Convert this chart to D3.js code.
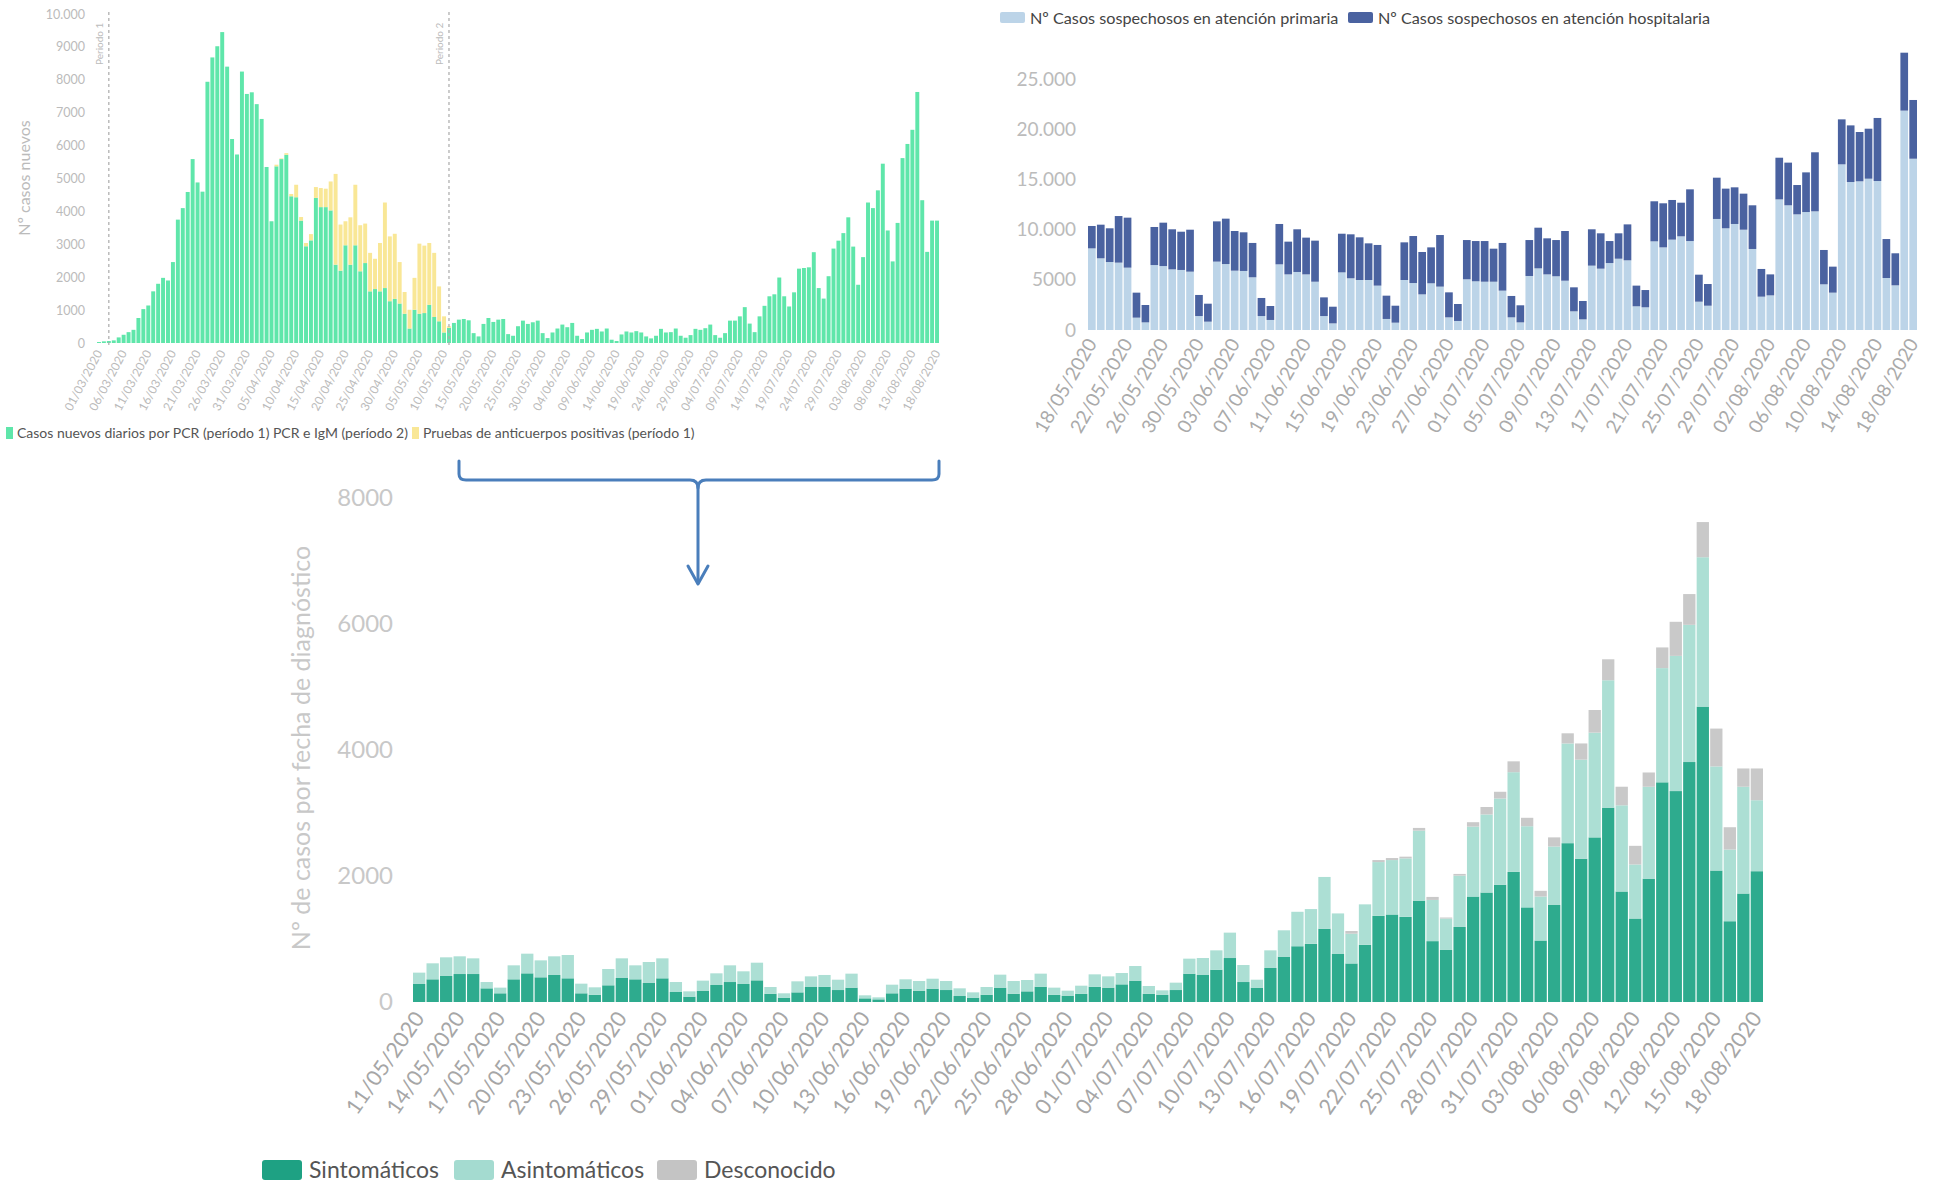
<!DOCTYPE html>
<html>
<head>
<meta charset="utf-8">
<script src="https://cdn.jsdelivr.net/npm/d3@7"></script>
<style>
  body { margin: 0; background: #fff; }
  text { font-family: Lato, sans-serif; }
</style>
</head>
<body>
<svg id="chart" width="1939" height="1184"></svg>
<script>
// ---- data: casos nuevos diarios (01/03 - 18/08) ----
var casosPCR = [30,50,60,80,170,250,330,400,760,1030,
  1140,1570,1800,1980,1900,2460,3750,4100,4590,5590,
  4880,4600,7940,8680,9020,9450,8400,6200,5730,8250,
  7570,7620,7260,6810,5350,3700,5370,5590,5720,4460,
  4430,3720,2940,3120,4410,4130,4130,4030,2380,2200,
  2970,2380,2970,2180,2430,1570,1640,1570,1670,1270,
  1340,1200,890,440,1010,890,910,1160,790,660,
  320,460,610,710,730,690,300,200,580,760,
  640,710,730,270,220,510,680,580,630,680,
  300,150,320,440,560,480,610,220,120,320,
  400,430,350,440,100,60,260,350,320,360,
  320,200,140,220,430,320,330,440,220,160,
  240,430,400,450,560,240,160,300,680,680,
  810,1090,590,330,810,1130,1420,1480,1990,1420,
  1110,1540,2260,2280,2300,2760,1670,1350,2030,2870,
  3110,3340,3820,2930,1770,2610,4270,4100,4640,5450,
  3420,2480,3650,5620,6050,6480,7630,4340,2770,3720,
  3720];
// pruebas de anticuerpos positivas, desde 06/04
var anticuerposInicio = "06/04/2020";
var anticuerpos = [50,20,50,70,380,110,100,190,330,580,
  560,880,2760,1400,730,1440,1840,1400,1200,1170,
  920,1470,2600,1970,1980,1260,660,570,970,2130,
  2050,1880,1950,1060,490,50];
var periodos = [{fecha: "03/03/2020", nombre: "Periodo 1"}, {fecha: "11/05/2020", nombre: "Periodo 2"}];
var etiquetasA = ["01/03/2020","06/03/2020","11/03/2020","16/03/2020","21/03/2020","26/03/2020","31/03/2020",
  "05/04/2020","10/04/2020","15/04/2020","20/04/2020","25/04/2020","30/04/2020","05/05/2020","10/05/2020",
  "15/05/2020","20/05/2020","25/05/2020","30/05/2020","04/06/2020","09/06/2020","14/06/2020","19/06/2020",
  "24/06/2020","29/06/2020","04/07/2020","09/07/2020","14/07/2020","19/07/2020","24/07/2020","29/07/2020",
  "03/08/2020","08/08/2020","13/08/2020","18/08/2020"];

// ---- data: casos sospechosos (18/05 - 18/08) ----
var primaria = [8130,7140,6770,6710,6210,1230,760,6470,6370,6040,
  5980,5810,1390,830,6810,6570,5910,5880,5250,1390,
  1000,6540,5540,5780,5540,4810,1390,660,5740,5150,
  4980,4980,4420,1100,730,4980,4680,3550,4650,4320,
  1260,900,5050,4850,4810,4810,3920,1260,760,5380,
  6140,5540,5350,4910,1860,1060,6410,6110,6670,7100,
  6940,2360,2260,8830,8230,9000,9330,8860,2820,2420,
  11060,10130,10560,9990,8070,3320,3450,13010,12420,11520,
  11750,11820,4550,3720,16500,14740,14810,15070,14840,5180,
  4450,21850,17060];
var hospitalaria = [2230,3350,3360,4640,4980,2490,1730,3790,4320,3990,
  3810,4180,2100,1790,4010,4520,3950,3850,3420,1800,
  1390,4020,3260,4250,3660,4090,1860,1660,3850,4380,
  4250,3650,4050,2320,1690,3750,4680,4220,3580,5140,
  2490,1690,3910,4010,4050,3290,4750,2130,1700,3580,
  4050,3590,3610,4950,2390,1830,3620,3520,2190,2530,
  3580,2060,1720,3990,4390,3950,3350,5150,2690,2160,
  4110,3950,3650,3590,4350,2760,2090,4150,4250,2920,
  3950,5880,3420,2590,4480,5640,4910,4980,6280,3880,
  3190,5770,5850];
var etiquetasB = ["18/05/2020","22/05/2020","26/05/2020","30/05/2020","03/06/2020","07/06/2020","11/06/2020",
  "15/06/2020","19/06/2020","23/06/2020","27/06/2020","01/07/2020","05/07/2020","09/07/2020","13/07/2020",
  "17/07/2020","21/07/2020","25/07/2020","29/07/2020","02/08/2020","06/08/2020","10/08/2020","14/08/2020",
  "18/08/2020"];

// ---- data: casos por fecha de diagnostico (11/05 - 18/08) ----
var sintomaticos = [286,360,413,444,444,217,138,360,455,392,
  429,376,138,116,265,381,360,302,376,159,
  85,175,270,317,286,344,132,69,153,238,
  243,190,228,58,42,138,212,180,212,190,
  95,69,116,228,132,169,243,116,101,132,
  243,228,280,339,132,116,190,450,429,513,
  698,317,228,540,720,885,923,1164,762,612,
  907,1368,1389,1352,1609,966,826,1191,1674,1738,
  1862,2065,1502,976,1540,2521,2275,2613,3085,1754,
  1325,1958,3487,3348,3809,4689,2087,1282,1722,2076];
var asintomaticos = [180,254,296,281,249,100,90,222,312,269,
  296,370,153,117,259,312,222,333,317,158,
  84,164,185,265,201,280,106,69,175,169,
  186,164,222,48,32,137,148,153,158,143,
  122,84,122,206,201,180,207,112,79,127,
  196,179,180,232,122,69,117,238,269,307,
  403,270,126,280,418,547,552,821,644,472,
  643,853,864,928,1111,654,499,815,1110,1239,
  1368,1583,1288,698,928,1583,1572,1663,2022,1368,
  858,1459,1813,2146,2178,2371,1652,1138,1695,1127];
var desconocido = [0,0,0,0,0,0,0,0,0,0,
  0,0,0,0,0,0,0,0,0,0,
  0,0,0,0,0,0,0,0,0,0,
  0,0,0,0,0,0,0,0,0,0,
  0,0,0,0,0,0,0,0,0,0,
  0,0,0,0,0,0,0,0,0,0,
  0,0,0,0,0,0,0,0,0,43,
  0,32,32,27,43,48,16,27,70,118,
  107,172,134,91,145,161,257,359,333,295,
  296,226,328,541,488,558,601,354,290,504];
var etiquetasC = ["11/05/2020","14/05/2020","17/05/2020","20/05/2020","23/05/2020","26/05/2020","29/05/2020",
  "01/06/2020","04/06/2020","07/06/2020","10/06/2020","13/06/2020","16/06/2020","19/06/2020","22/06/2020",
  "25/06/2020","28/06/2020","01/07/2020","04/07/2020","07/07/2020","10/07/2020","13/07/2020","16/07/2020",
  "19/07/2020","22/07/2020","25/07/2020","28/07/2020","31/07/2020","03/08/2020","06/08/2020","09/08/2020",
  "12/08/2020","15/08/2020","18/08/2020"];

var parse = d3.utcParse("%d/%m/%Y"), fmt = d3.utcFormat("%d/%m/%Y");
function dias(a, b) {
  return d3.utcDay.range(parse(a), d3.utcDay.offset(parse(b), 1)).map(fmt);
}
// 10.000 with a dot, but 9000 without (as in the original)
function miles(v) {
  return v >= 10000 ? d3.format(",")(v).replace(/,/g, ".") : String(v);
}

var svg = d3.select("#chart");

// ================= chart A (top left) =================
var fechasA = dias("01/03/2020", "18/08/2020");
var iniAnti = fechasA.indexOf(anticuerposInicio);
var tablaA = fechasA.map(function(f, i) {
  var j = i - iniAnti;
  return {fecha: f, pcr: casosPCR[i], anti: (j >= 0 && j < anticuerpos.length) ? anticuerpos[j] : 0};
});
var xA = d3.scaleBand().domain(fechasA).range([97, 939]).paddingInner(0.2).paddingOuter(0);
var yA = d3.scaleLinear().domain([0, 10000]).range([343, 14]);
var gA = svg.append("g");

var pilaA = d3.stack().keys(["pcr", "anti"])(tablaA);
var coloresA = {pcr: "#5fe6aa", anti: "#f9e796"};
gA.selectAll("g.serie").data(pilaA).join("g").attr("class", "serie")
  .attr("fill", function(s) { return coloresA[s.key]; })
  .selectAll("rect").data(function(s) { return s; }).join("rect")
  .attr("x", function(d) { return xA(d.data.fecha); })
  .attr("width", xA.bandwidth())
  .attr("y", function(d) { return yA(d[1]); })
  .attr("height", function(d) { return yA(d[0]) - yA(d[1]); });

gA.selectAll("line.periodo").data(periodos).join("line").attr("class", "periodo")
  .attr("x1", function(d) { return xA(d.fecha) + xA.bandwidth() / 2; })
  .attr("x2", function(d) { return xA(d.fecha) + xA.bandwidth() / 2; })
  .attr("y1", 12).attr("y2", 346)
  .attr("stroke", "#aaa").attr("stroke-width", 1.2).attr("stroke-dasharray", "3,3");
gA.selectAll("text.periodo").data(periodos).join("text").attr("class", "periodo")
  .attr("transform", function(d) { return "translate(" + (xA(d.fecha) + xA.bandwidth() / 2 - 6) + ",65) rotate(-90)"; })
  .attr("font-size", 10).attr("fill", "#bbb")
  .text(function(d) { return d.nombre; });

gA.append("g").attr("transform", "translate(88,0)")
  .call(d3.axisLeft(yA).tickValues(d3.range(0, 10001, 1000)).tickFormat(miles).tickSize(0).tickPadding(3))
  .call(function(g) { g.select(".domain").remove(); })
  .attr("font-family", "Lato").attr("font-size", 12.5)
  .selectAll("text").attr("fill", "#bbb");

gA.append("g").attr("transform", "translate(0,351)")
  .call(d3.axisBottom(xA).tickValues(etiquetasA).tickSize(0).tickPadding(0))
  .call(function(g) { g.select(".domain").remove(); })
  .attr("font-family", "Lato").attr("font-size", 12)
  .selectAll("text").attr("fill", "#bbb").attr("y", 0).attr("dy", "0.35em")
  .attr("transform", "rotate(-62)").style("text-anchor", "end");

gA.append("text").attr("transform", "translate(30,178) rotate(-90)")
  .attr("text-anchor", "middle").attr("font-size", 16).attr("fill", "#bbb").text("Nº casos nuevos");

var leyendaA = [
  {x: 6, color: coloresA.pcr, texto: "Casos nuevos diarios por PCR (período 1) PCR e IgM (período 2)"},
  {x: 412, color: coloresA.anti, texto: "Pruebas de anticuerpos positivas (período 1)"}
];
var lA = gA.selectAll("g.leyenda").data(leyendaA).join("g").attr("class", "leyenda")
  .attr("transform", function(d) { return "translate(" + d.x + ",427)"; });
lA.append("rect").attr("width", 7).attr("height", 12).attr("fill", function(d) { return d.color; });
lA.append("text").attr("x", 11).attr("y", 11).attr("font-size", 14).attr("fill", "#555")
  .text(function(d) { return d.texto; });

// ================= chart B (top right) =================
var fechasB = dias("18/05/2020", "18/08/2020");
var tablaB = fechasB.map(function(f, i) { return {fecha: f, primaria: primaria[i], hospitalaria: hospitalaria[i]}; });
var xB = d3.scaleBand().domain(fechasB).range([1088, 1917]).paddingInner(0.14).paddingOuter(0);
var yB = d3.scaleLinear().domain([0, 25000]).range([330, 79]);
var coloresB = {primaria: "#bcd4e8", hospitalaria: "#4a62a0"};
var gB = svg.append("g");

gB.selectAll("g.serie").data(d3.stack().keys(["primaria", "hospitalaria"])(tablaB)).join("g").attr("class", "serie")
  .attr("fill", function(s) { return coloresB[s.key]; })
  .selectAll("rect").data(function(s) { return s; }).join("rect")
  .attr("x", function(d) { return xB(d.data.fecha); })
  .attr("width", xB.bandwidth())
  .attr("y", function(d) { return yB(d[1]); })
  .attr("height", function(d) { return yB(d[0]) - yB(d[1]); });

gB.append("g").attr("transform", "translate(1079,0)")
  .call(d3.axisLeft(yB).tickValues(d3.range(0, 25001, 5000)).tickFormat(miles).tickSize(0).tickPadding(3))
  .call(function(g) { g.select(".domain").remove(); })
  .attr("font-family", "Lato").attr("font-size", 19)
  .selectAll("text").attr("fill", "#bbb");

gB.append("g").attr("transform", "translate(0,340)")
  .call(d3.axisBottom(xB).tickValues(etiquetasB).tickSize(0).tickPadding(0))
  .call(function(g) { g.select(".domain").remove(); })
  .attr("font-family", "Lato").attr("font-size", 19)
  .selectAll("text").attr("fill", "#aaa").attr("y", 0).attr("dy", "0.35em")
  .attr("transform", "rotate(-60)").style("text-anchor", "end");

var leyendaB = [
  {x: 1000, color: coloresB.primaria, texto: "Nº Casos sospechosos en atención primaria"},
  {x: 1348, color: coloresB.hospitalaria, texto: "Nº Casos sospechosos en atención hospitalaria"}
];
var lB = gB.selectAll("g.leyenda").data(leyendaB).join("g").attr("class", "leyenda")
  .attr("transform", function(d) { return "translate(" + d.x + ",12)"; });
lB.append("rect").attr("width", 25).attr("height", 11).attr("rx", 2).attr("fill", function(d) { return d.color; });
lB.append("text").attr("x", 30).attr("y", 11.5).attr("font-size", 16.2).attr("fill", "#444")
  .text(function(d) { return d.texto; });

// ================= bracket + arrow =================
var flecha = svg.append("g").attr("fill", "none").attr("stroke", "#4a7ebb").attr("stroke-width", 3)
  .attr("stroke-linecap", "round").attr("stroke-linejoin", "round");
flecha.append("path").attr("d", "M459,461 L459,474 Q459,480 466,480 L690,480 Q698,480 698,488 Q698,480 706,480 L932,480 Q939,480 939,474 L939,461");
flecha.append("path").attr("d", "M698,486 L698,583");
flecha.append("path").attr("d", "M688,566 L698,584 L708,566");

// ================= chart C (bottom) =================
var fechasC = dias("11/05/2020", "18/08/2020");
var tablaC = fechasC.map(function(f, i) {
  return {fecha: f, sint: sintomaticos[i], asint: asintomaticos[i], desc: desconocido[i]};
});
var xC = d3.scaleBand().domain(fechasC).range([413, 1763]).paddingInner(0.09).paddingOuter(0);
var yC = d3.scaleLinear().domain([0, 8000]).range([1002, 498]);
var coloresC = {sint: "#2eab8e", asint: "#acdfd4", desc: "#c9c9c9"};
var gC = svg.append("g");

gC.selectAll("g.serie").data(d3.stack().keys(["sint", "asint", "desc"])(tablaC)).join("g").attr("class", "serie")
  .attr("fill", function(s) { return coloresC[s.key]; })
  .selectAll("rect").data(function(s) { return s; }).join("rect")
  .attr("x", function(d) { return xC(d.data.fecha); })
  .attr("width", xC.bandwidth())
  .attr("y", function(d) { return yC(d[1]); })
  .attr("height", function(d) { return yC(d[0]) - yC(d[1]); });

gC.append("g").attr("transform", "translate(396,0)")
  .call(d3.axisLeft(yC).tickValues(d3.range(0, 8001, 2000)).tickSize(0).tickPadding(3).tickFormat(d3.format("d")))
  .call(function(g) { g.select(".domain").remove(); })
  .attr("font-family", "Open Sans").attr("font-size", 24)
  .selectAll("text").attr("fill", "#c8c8c8");

gC.append("g").attr("transform", "translate(0,1014)")
  .call(d3.axisBottom(xC).tickValues(etiquetasC).tickSize(0).tickPadding(0))
  .call(function(g) { g.select(".domain").remove(); })
  .attr("font-family", "Open Sans").attr("font-size", 21.5)
  .selectAll("text").attr("fill", "#a6a6a6").attr("y", 0).attr("dy", "0.35em")
  .attr("transform", "rotate(-55)").style("text-anchor", "end");

gC.append("text").attr("transform", "translate(310,748) rotate(-90)")
  .attr("text-anchor", "middle").attr("font-family", "Open Sans").attr("font-size", 25)
  .attr("fill", "#c8c8c8").text("Nº de casos por fecha de diagnóstico");

var leyendaC = [
  {x: 262, color: "#1ea183", texto: "Sintomáticos"},
  {x: 454, color: "#a4dbd0", texto: "Asintomáticos"},
  {x: 657, color: "#c4c4c4", texto: "Desconocido"}
];
var lC = gC.selectAll("g.leyenda").data(leyendaC).join("g").attr("class", "leyenda")
  .attr("transform", function(d) { return "translate(" + d.x + ",1160)"; });
lC.append("rect").attr("width", 40).attr("height", 20).attr("rx", 3).attr("fill", function(d) { return d.color; });
lC.append("text").attr("x", 47).attr("y", 18).attr("font-size", 23).attr("fill", "#555")
  .text(function(d) { return d.texto; });
</script>
</body>
</html>
